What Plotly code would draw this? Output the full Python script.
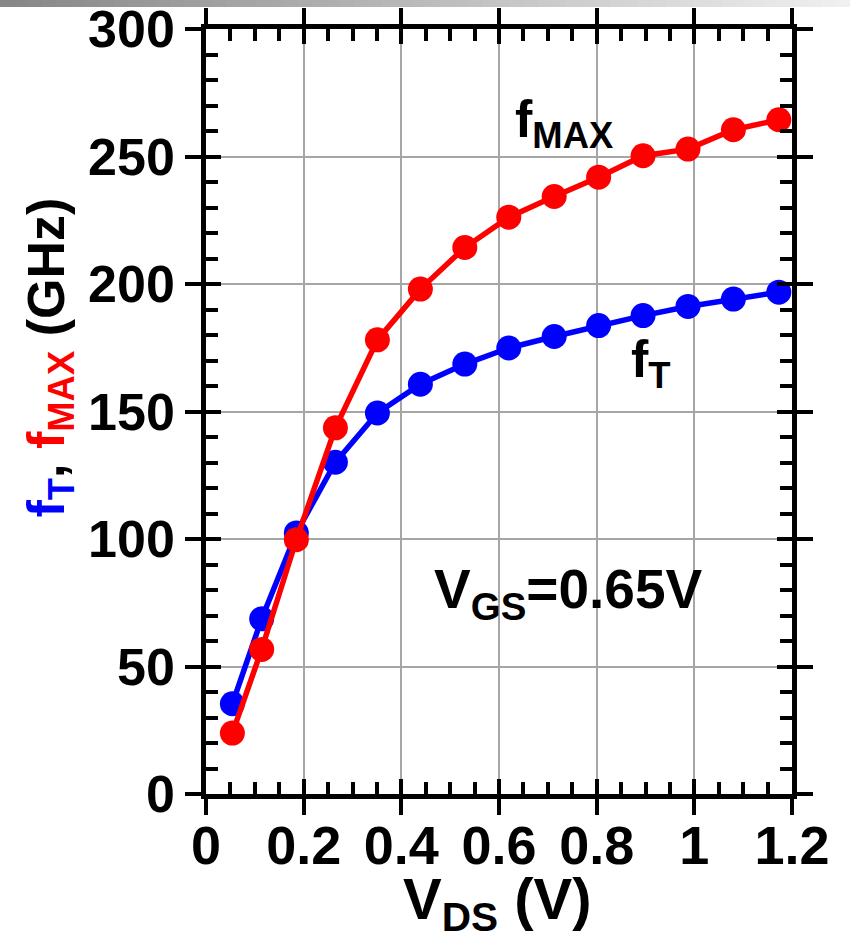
import plotly.graph_objects as go

# ---- data ----
vds = [0.054, 0.114, 0.185, 0.265, 0.351, 0.439, 0.530, 0.620, 0.713, 0.804, 0.895, 0.987, 1.080, 1.173]
ft = [35.4, 68.7, 102.4, 130.1, 149.4, 160.7, 168.6, 174.9, 179.4, 183.7, 187.6, 191.2, 194.1, 196.8]
fmax = [23.9, 56.7, 99.7, 143.6, 178.1, 198.0, 214.3, 226.2, 234.3, 241.9, 250.3, 252.9, 260.5, 264.4]
x_ticks = [0, 0.2, 0.4, 0.6, 0.8, 1.0, 1.2]
x_tick_labels = ["0", "0.2", "0.4", "0.6", "0.8", "1", "1.2"]
y_ticks = [0, 50, 100, 150, 200, 250, 300]
y_tick_labels = ["0", "50", "100", "150", "200", "250", "300"]

FONT = "Liberation Sans, Arial, sans-serif"

fig = go.Figure()
fig.add_trace(go.Scatter(x=vds, y=ft, mode="lines+markers",
                         line=dict(color="#0000ff", width=5.5),
                         marker=dict(color="#0000ff", size=25), showlegend=False))
fig.add_trace(go.Scatter(x=vds, y=fmax, mode="lines+markers",
                         line=dict(color="#ff0000", width=5.5),
                         marker=dict(color="#ff0000", size=25), showlegend=False))
# empty trace on overlay axes so they are drawn
fig.add_trace(go.Scatter(x=[], y=[], xaxis="x2", yaxis="y2", showlegend=False))

common_line = dict(showline=True, linecolor="black", linewidth=4.5, zeroline=False,
                   automargin=False)

fig.update_layout(
    width=850, height=936,
    margin=dict(l=206, r=58, t=29, b=142, autoexpand=False),
    paper_bgcolor="white", plot_bgcolor="white",
    xaxis=dict(range=[0, 1.2], tickmode="array", tickvals=x_ticks, ticktext=x_tick_labels,
               showticklabels=True, ticks="inside", ticklen=15, tickwidth=4, tickcolor="black",
               tickfont=dict(family=FONT, size=54, color="black", weight="bold"),
               mirror="allticks", showgrid=True, gridcolor="#a6a6a6", gridwidth=1.5,
               minor=dict(dtick=0.05, ticks="inside", ticklen=12, tickwidth=3.5,
                          tickcolor="black", showgrid=False),
               **common_line),
    yaxis=dict(range=[0, 300], tickmode="array", tickvals=y_ticks, ticktext=y_tick_labels,
               showticklabels=False, ticks="inside", ticklen=15, tickwidth=4, tickcolor="black",
               mirror="allticks", showgrid=True, gridcolor="#a6a6a6", gridwidth=1.5,
               minor=dict(dtick=10, ticks="inside", ticklen=12, tickwidth=3.5,
                          tickcolor="black", showgrid=False),
               **common_line),
    xaxis2=dict(overlaying="x", range=[0, 1.2], tickmode="array", tickvals=x_ticks,
                ticktext=x_tick_labels, ticks="outside", ticklen=16, tickwidth=4,
                tickcolor="black", mirror="allticks", showgrid=False, showticklabels=False,
                **common_line),
    yaxis2=dict(overlaying="y", range=[0, 300], tickmode="array", tickvals=y_ticks,
                ticktext=y_tick_labels, ticks="outside", ticklen=16, tickwidth=4,
                tickcolor="black", mirror="allticks", showgrid=False, side="left",
                tickfont=dict(family=FONT, size=52, color="black", weight="bold"),
                **common_line),
)

# gradient bar at the very top
n = 60
x0p, x1p = -206 / 586, 1 + 58 / 586
y0p, y1p = 1 + 22 / 765, 1 + 30 / 765
for i in range(n):
    t = i / (n - 1)
    c = int(135 + (240 - 135) * t)
    fig.add_shape(type="rect", xref="paper", yref="paper",
                  x0=x0p + (x1p - x0p) * i / n, x1=x0p + (x1p - x0p) * (i + 1) / n + 0.002,
                  y0=y0p, y1=y1p, fillcolor=f"rgb({c},{c},{c})", line=dict(width=0),
                  layer="above")

ann_font = dict(family=FONT, size=52, color="black", weight="bold")
fig.add_annotation(x=0.628, y=263.2, xref="x", yref="y", xanchor="left", yanchor="middle",
                   text="f<sub>MAX</sub>", showarrow=False, font=ann_font)
fig.add_annotation(x=0.866, y=169.0, xref="x", yref="y", xanchor="left", yanchor="middle",
                   text="f<sub>T</sub>", showarrow=False, font=ann_font)
fig.add_annotation(x=0.462, y=78.8, xref="x", yref="y", xanchor="left", yanchor="middle",
                   text="V<sub>GS</sub>=0.65V", showarrow=False,
                   font=dict(family=FONT, size=55, color="black", weight="bold"))
fig.add_annotation(x=-0.267, y=0.570, xref="paper", yref="paper", xanchor="center",
                   yanchor="middle", textangle=-90, showarrow=False,
                   text='<span style="color:#0000ff">f<sub>T</sub></span>, '
                        '<span style="color:#ff0000">f<sub>MAX</sub></span> (GHz)',
                   font=dict(family=FONT, size=52, color="black", weight="bold"))
fig.add_annotation(x=0.497, y=-0.092, xref="paper", yref="paper", xanchor="center",
                   yanchor="top", showarrow=False, text="V<sub>DS</sub> (V)",
                   font=dict(family=FONT, size=58, color="black", weight="bold"))

fig.write_html("out.html")
